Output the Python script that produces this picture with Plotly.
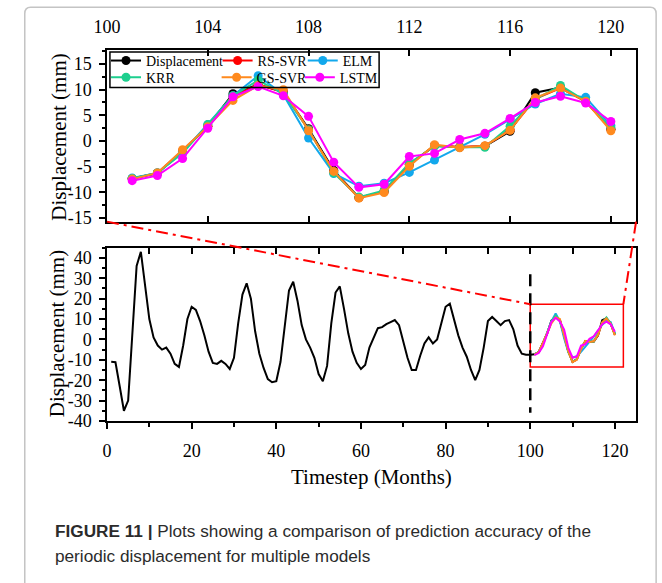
import plotly.graph_objects as go

W, H = 662, 583

# ---------------- data ----------------
t_hist = list(range(1, 101))
disp_hist = [-11, -11.2, -23, -35, -30, 5, 36, 43, 27, 10,
             1, -3, -5, -4, -7, -12, -13.5, -3, 10, 16,
             14.5, 9, 2, -6, -11.5, -12, -10.5, -12, -14.5, -9,
             8, 22, 27.5, 20, 4, -7, -14, -19.5, -21, -20.5,
             -11, 8, 24, 28.3, 19, 7, 0, -4, -9, -17,
             -20.5, -13, 8, 23, 26, 15, 3, -6, -11.5, -14.5,
             -12.5, -4, 1, 5.5, 6, 7.5, 8.5, 9.5, 7, -1,
             -9, -15, -15, -8, -2, 1, -2, 0, 8, 16,
             17.5, 10, 2, -4, -8.5, -15, -20, -15, -4, 9,
             11, 9, 7, 9, 9.5, 5, -3, -7, -7.5, -7.5]

t_test = list(range(101, 121))
displacement = [-7.3, -6.3, -2.0, 2.9, 9.2, 11.0, 9.6, 2.4, -5.7, -11.0,
                -9.8, -4.5, -0.9, -1.2, -1.0, 1.9, 9.4, 10.4, 7.7, 2.3]
rs_svr = [-7.3, -6.2, -1.9, 2.9, 8.7, 11.0, 9.5, 2.2, -6.0, -11.0,
          -9.8, -4.6, -0.9, -1.1, -1.0, 2.2, 8.2, 10.3, 7.7, 2.3]
elm = [-7.2, -6.2, -2.2, 3.2, 8.8, 12.7, 9.0, 0.6, -6.3, -8.8,
       -8.2, -6.1, -3.7, -1.2, 1.3, 4.2, 7.2, 9.2, 8.5, 3.0]
krr = [-7.3, -6.2, -2.4, 3.2, 8.8, 11.8, 9.2, 2.2, -6.2, -10.9,
       -9.6, -4.3, -1.0, -1.2, -1.2, 2.9, 8.1, 10.8, 7.8, 2.6]
gs_svr = [-7.4, -6.2, -1.7, 2.8, 7.9, 10.8, 10.0, 2.0, -5.9, -11.1,
          -10.0, -4.9, -0.7, -1.3, -0.9, 2.1, 8.4, 10.3, 7.7, 2.0]
lstm = [-7.7, -6.7, -3.4, 2.5, 8.6, 10.6, 8.8, 4.8, -4.1, -9.0,
        -8.4, -3.0, -2.4, 0.3, 1.5, 4.4, 7.5, 8.7, 7.4, 3.8]

series_names = ["Displacement", "RS-SVR", "ELM", "KRR", "GS-SVR", "LSTM"]
series_values = [displacement, rs_svr, elm, krr, gs_svr, lstm]
series_colors = ["#000000", "#FF0000", "#12A8EC", "#1DCF8E", "#FF8A1E", "#FF00FF"]

top_x_ticks = [100, 104, 108, 112, 116, 120]
top_y_ticks = [-15, -10, -5, 0, 5, 10, 15]
top_y_labels = ["-15", "-10", "-5", "0", "5", "10", "15"]
bot_x_ticks = [0, 20, 40, 60, 80, 100, 120]
bot_y_ticks = [-40, -30, -20, -10, 0, 10, 20, 30, 40]
bot_y_labels = ["-40", "-30", "-20", "-10", "0", "10", "20", "30", "40"]

zoom_x = [100, 122]
zoom_y = [-13.5, 17.3]

# ---------------- layout helpers ----------------
def px(x):
    return x / W


def py(y):
    return 1 - y / H


X_DOM = [px(95), px(635.5)]
TOP_DOM = [py(225.5), py(51)]
BOT_DOM = [py(428.3), py(252)]
TOP_XR = [100, 121]
TOP_YR = [-15.67, 17.68]
BOT_XR = [0, 125]
BOT_YR = [-40, 45]


def to_px(v, rng, dom):
    return dom[0] + (v - rng[0]) / (rng[1] - rng[0]) * (dom[1] - dom[0])


SERIF = "Liberation Serif"
tickfont = dict(family=SERIF, size=18, color="black")

# legend slot positions (pixel x of legend left, pixel y of row centre)
legend_slots = [(94, 62), (208, 62), (295, 62), (94, 79), (207, 79), (292, 79)]
legend_ids = ["legend", "legend2", "legend3", "legend4", "legend5", "legend6"]

fig = go.Figure()

# top plot
for name, vals, col, lg in zip(series_names, series_values, series_colors, legend_ids):
    fig.add_trace(go.Scatter(
        x=t_test, y=vals, name=name, mode="lines+markers",
        line=dict(color=col, width=2), marker=dict(color=col, size=9),
        xaxis="x", yaxis="y", legend=lg, showlegend=True))

# bottom plot
fig.add_trace(go.Scatter(
    x=t_hist + t_test, y=disp_hist + displacement, mode="lines",
    line=dict(color="black", width=2), xaxis="x2", yaxis="y2", showlegend=False))
for name, vals, col in zip(series_names[1:], series_values[1:], series_colors[1:]):
    fig.add_trace(go.Scatter(
        x=t_test, y=vals, mode="lines", line=dict(color=col, width=2),
        xaxis="x2", yaxis="y2", showlegend=False))
fig.add_trace(go.Scatter(x=[0], y=[None], xaxis="x3", yaxis="y2",
                         mode="lines", showlegend=False))

axis_common = dict(showline=True, linecolor="black", linewidth=1.5, showgrid=False,
                   zeroline=False, tickcolor="black", tickwidth=1.5, tickfont=tickfont)

legend_common = dict(xanchor="left", yanchor="middle", bgcolor="rgba(0,0,0,0)",
                     borderwidth=0, itemwidth=30, tracegroupgap=0,
                     font=dict(family=SERIF, size=14, color="black"))
legends = {lg: dict(x=px(sx), y=py(sy), **legend_common)
           for lg, (sx, sy) in zip(legend_ids, legend_slots)}

shapes = [
    # legend frame
    dict(type="rect", xref="paper", yref="paper", x0=px(98), x1=px(373),
         y0=py(89), y1=py(53), line=dict(color="black", width=1.5)),
    # zoom box
    dict(type="rect", xref="x2", yref="y2", x0=zoom_x[0], x1=zoom_x[1],
         y0=zoom_y[0], y1=zoom_y[1], line=dict(color="#FF0000", width=1.5)),
    # dashed split line
    dict(type="line", xref="x2", yref="y2", x0=100, x1=100, y0=32, y1=-36,
         line=dict(color="black", width=2.5, dash="12px,7px")),
    # connectors
    dict(type="line", xref="paper", yref="paper", x0=X_DOM[0], y0=TOP_DOM[0],
         x1=to_px(zoom_x[0], BOT_XR, X_DOM), y1=to_px(zoom_y[1], BOT_YR, BOT_DOM),
         line=dict(color="#FF0000", width=2, dash="12px,5px,3px,5px")),
    dict(type="line", xref="paper", yref="paper", x0=X_DOM[1], y0=TOP_DOM[0],
         x1=to_px(zoom_x[1], BOT_XR, X_DOM), y1=to_px(zoom_y[1], BOT_YR, BOT_DOM),
         line=dict(color="#FF0000", width=2, dash="12px,5px,3px,5px")),
    # outer gray frame
    dict(type="path", xref="paper", yref="paper",
         path=(f"M {px(11)},{py(620)} L {px(11)},{py(14)} Q {px(11)},{py(7.5)} {px(17)},{py(7.5)} "
               f"L {px(650)},{py(7.5)} Q {px(656)},{py(7.5)} {px(656)},{py(14)} L {px(656)},{py(620)}"),
         line=dict(color="#C4C4C4", width=1.5)),
]

annotations = [
    dict(text="Displacement (mm)", textangle=-90, xref="paper", yref="paper",
         x=px(46), y=py(140), xanchor="center", yanchor="middle", showarrow=False,
         font=dict(family=SERIF, size=21, color="black")),
    dict(text="Displacement (mm)", textangle=-90, xref="paper", yref="paper",
         x=px(44), y=py(340), xanchor="center", yanchor="middle", showarrow=False,
         font=dict(family=SERIF, size=21, color="black")),
    dict(text="Timestep (Months)", xref="paper", yref="paper",
         x=px(365), y=py(485), xanchor="center", yanchor="middle", showarrow=False,
         font=dict(family=SERIF, size=21, color="black")),
    dict(text="<b>FIGURE 11 |</b> Plots showing a comparison of prediction accuracy of the",
         xref="paper", yref="paper", x=px(40), y=py(540), xanchor="left", yanchor="middle",
         showarrow=False, font=dict(family="Liberation Sans", size=17.2, color="#2b2b2b")),
    dict(text="periodic displacement for multiple models",
         xref="paper", yref="paper", x=px(40), y=py(566), xanchor="left", yanchor="middle",
         showarrow=False, font=dict(family="Liberation Sans", size=17.2, color="#2b2b2b")),
]

fig.update_layout(
    width=W, height=H, margin=dict(l=0, r=0, t=0, b=0),
    paper_bgcolor="white", plot_bgcolor="white", hovermode=False,
    xaxis=dict(domain=X_DOM, anchor="y", range=TOP_XR, side="top", tickmode="array",
               tickvals=top_x_ticks, ticks="inside", ticklen=6, mirror="ticks",
               ticklabelstandoff=8, **axis_common),
    yaxis=dict(domain=TOP_DOM, anchor="x", range=TOP_YR, tickmode="array",
               tickvals=top_y_ticks, ticktext=top_y_labels, ticks="outside", ticklen=6,
               mirror=True, ticklabelstandoff=4,
               minor=dict(tickmode="linear", tick0=0, dtick=2.5, ticks="outside",
                          ticklen=3, tickcolor="black", tickwidth=1.5),
               **axis_common),
    xaxis2=dict(domain=X_DOM, anchor="y2", range=BOT_XR, tickmode="array",
                tickvals=bot_x_ticks, ticks="outside", ticklen=6, mirror=True,
                ticklabelstandoff=7,
                minor=dict(tickmode="linear", tick0=0, dtick=10, ticks="outside",
                           ticklen=4, tickcolor="black", tickwidth=1.5),
                **axis_common),
    xaxis3=dict(overlaying="x2", anchor="y2", side="top", range=BOT_XR, tickmode="linear",
                tick0=0, dtick=10, ticks="inside", ticklen=6, tickwidth=1.5,
                tickcolor="black", showticklabels=False, showline=False, showgrid=False,
                zeroline=False),
    yaxis2=dict(domain=BOT_DOM, anchor="x2", range=BOT_YR, tickmode="array",
                tickvals=bot_y_ticks, ticktext=bot_y_labels, ticks="outside", ticklen=6,
                mirror=True, ticklabelstandoff=4,
                minor=dict(tickmode="linear", tick0=0, dtick=5, ticks="outside",
                           ticklen=3, tickcolor="black", tickwidth=1.5),
                **axis_common),
    shapes=shapes, annotations=annotations,
    **legends,
)

fig.write_html("out.html", config={"displayModeBar": False},
               post_script="document.body.style.margin='0px';document.body.style.overflow='hidden';")
